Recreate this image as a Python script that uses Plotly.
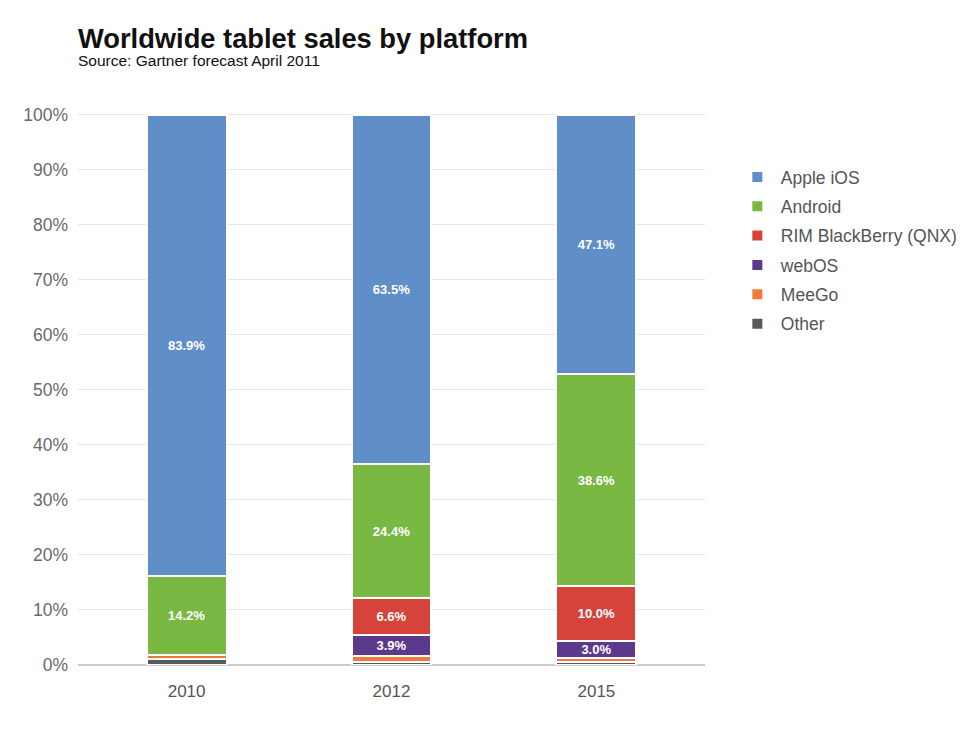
import plotly.graph_objs as go

years = ["2010", "2012", "2015"]

platforms = ["Other", "MeeGo", "webOS", "RIM BlackBerry (QNX)", "Android", "Apple iOS"]
other = [1.1, 0.6, 0.5]
meego = [0.8, 1.0, 0.8]
webos = [0.0, 3.9, 3.0]
rim = [0.0, 6.6, 10.0]
android = [14.2, 24.4, 38.6]
ios = [83.9, 63.5, 47.1]

colors = ["#595959", "#f07a3a", "#5b3a8c", "#d6433a", "#78b843", "#5f8ec9"]

y_ticks = [0, 10, 20, 30, 40, 50, 60, 70, 80, 90, 100]


def label(values):
  return ["%.1f%%" % v if v >= 2.5 else "" for v in values]


fig = go.Figure()

series = [other, meego, webos, rim, android, ios]
for i, (name, values, color) in enumerate(zip(platforms, series, colors)):
  fig.add_bar(
    x=years,
    y=values,
    name=name,
    legendgroup=name,
    legendrank=1000 - i,
    text=label(values),
    texttemplate="<b>%{text}</b>",
    textposition="inside",
    insidetextanchor="middle",
    textangle=0,
    textfont=dict(color="white", size=13, family="Liberation Sans"),
    marker=dict(color=color, line=dict(color="white", width=2)),
    hovertemplate="%{x}: %{y:.1f}%<extra>" + name + "</extra>",
  )

fig.layout = go.Layout(
  width=970,
  height=732,
  barmode="stack",
  bargap=0.61,
  plot_bgcolor="white",
  paper_bgcolor="white",
  font=dict(family="Liberation Sans, Arial, sans-serif", color="#555555"),
  margin=dict(l=70, r=273, t=104, b=75),
  uniformtext=dict(minsize=12, mode="show"),
  title=dict(
    text="<b>Worldwide tablet sales by platform</b>",
    x=70 / 970,
    xanchor="left",
    y=1 - 30 / 732,
    yanchor="middle",
    font=dict(size=27.3, color="#111111"),
  ),
  annotations=[
    dict(
      text="Source: Gartner forecast April 2011",
      xref="paper",
      yref="paper",
      x=0,
      y=1 + 52 / 553,
      xanchor="left",
      yanchor="middle",
      xshift=-2,
      showarrow=False,
      font=dict(size=15.5, color="#111111"),
    )
  ],
  xaxis=dict(
    range=[-0.53, 2.53],
    tickfont=dict(size=17, color="#555555"),
    showgrid=False,
    showline=False,
    ticks="",
    ticklabelstandoff=14,
  ),
  yaxis=dict(
    range=[0, 100.5],
    tickvals=y_ticks,
    ticktext=["%d%%" % t for t in y_ticks],
    tickfont=dict(size=17.5, color="#6a6a6a"),
    gridcolor="#e6e6e6",
    zeroline=True,
    zerolinecolor="#cccccc",
    zerolinewidth=1.5,
    ticks="",
    ticklabelstandoff=9,
  ),
  legend=dict(
    traceorder="grouped",
    x=1.046,
    xanchor="left",
    y=0.915,
    yanchor="top",
    font=dict(size=17.5, color="#555555"),
    tracegroupgap=3.6,
    itemwidth=37,
  ),
)

fig.write_html("out.html")
